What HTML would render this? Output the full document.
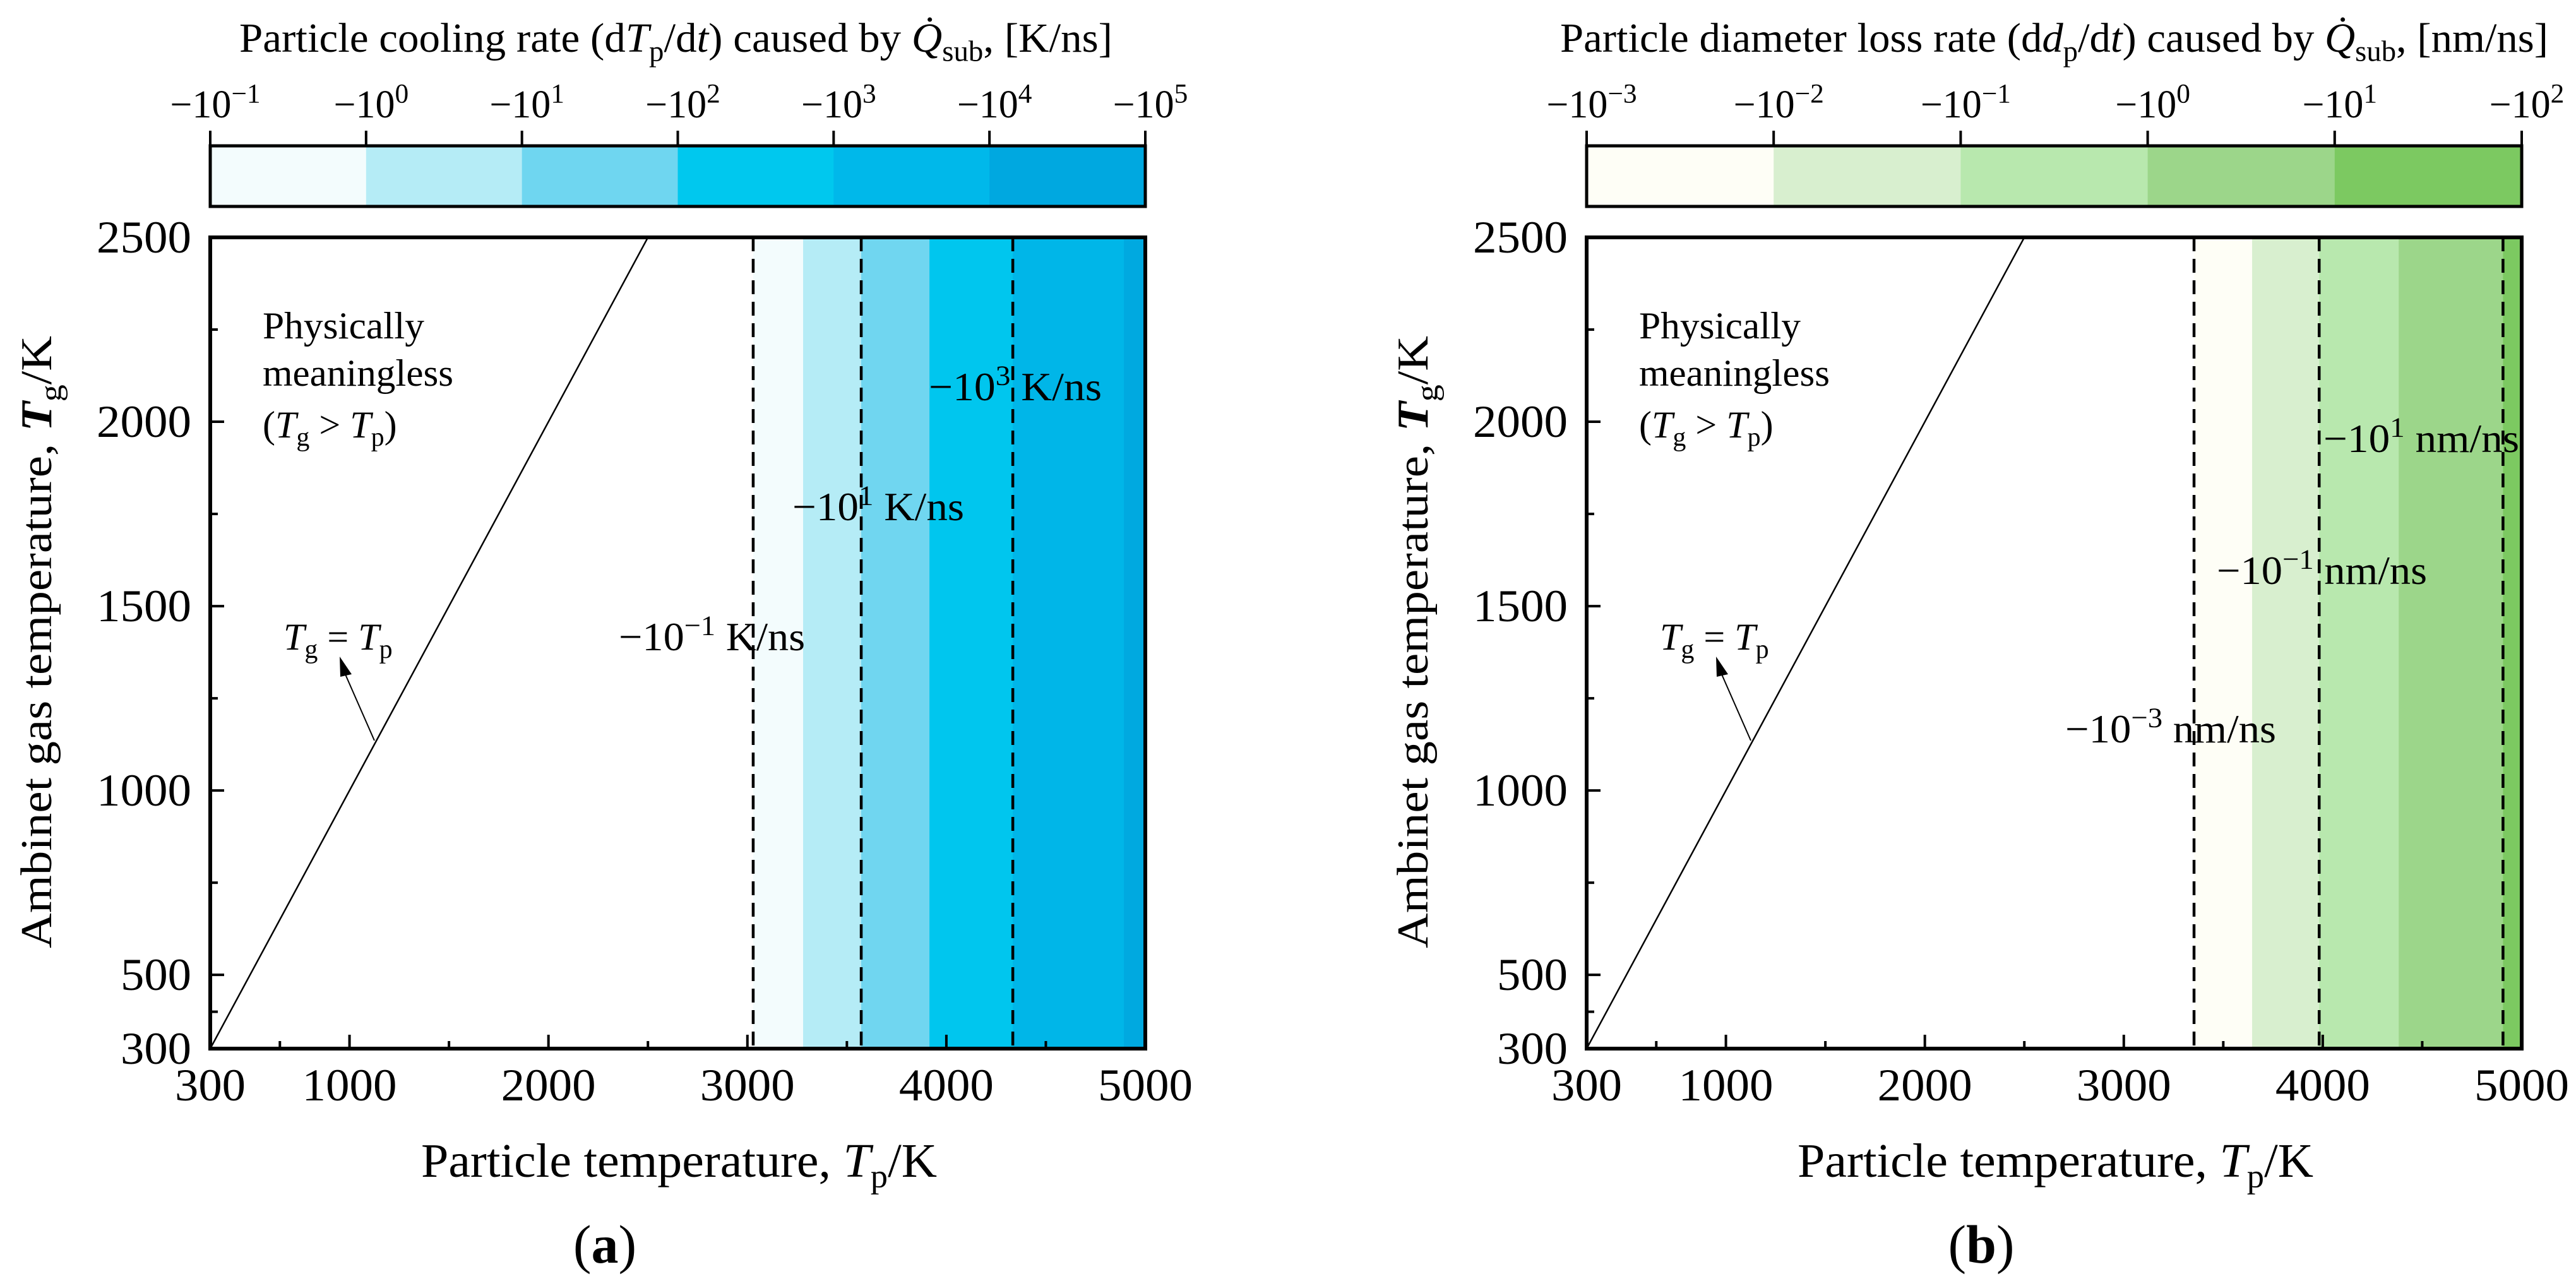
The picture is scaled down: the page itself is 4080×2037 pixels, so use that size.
<!DOCTYPE html>
<html><head><meta charset="utf-8"><style>
html,body{margin:0;padding:0;background:#fff;}
svg{display:block;font-family:"Liberation Serif",serif;}
</style></head><body>
<svg id="fig" width="4080" height="2037" viewBox="0 0 4080 2037" xmlns="http://www.w3.org/2000/svg"></svg>
<script>
// ---- data ----
const xTicks = [300, 1000, 2000, 3000, 4000, 5000];
const xMinor = [650, 1500, 2500, 3500, 4500];
const yTicks = [300, 500, 1000, 1500, 2000, 2500];
const yMinor = [400, 750, 1250, 1750, 2250];
const bandEdgesA = [3029, 3280, 3572, 3915, 4334, 4892, 5000];
const bandColorsA = ["#f3fcfd", "#b5ecf6", "#70d6f0", "#00c6ee", "#00b6e8", "#00a9e0"];
const dashedA = [3029, 3572, 4334];
const cbColorsA = ["#f3fcfd", "#b5ecf6", "#6fd6f0", "#00c8ee", "#00b8ea", "#00a8e0"];
const cbExpA = ["\u22121", "0", "1", "2", "3", "4", "5"];
const bandEdgesB = [3353, 3645, 3982, 4382, 4906, 5000];
const bandColorsB = ["#fefef6", "#d8efcf", "#b8e8ae", "#9cd68a", "#7cc961"];
const dashedB = [3353, 3982, 4906];
const cbColorsB = ["#fefef6", "#d8efcf", "#b8e8ae", "#9cd68a", "#7cc961"];
const cbExpB = ["\u22123", "\u22122", "\u22121", "0", "1", "2"];

const NS = "http://www.w3.org/2000/svg";
const svg = document.getElementById("fig");
function el(tag, attrs, parent) {
  const e = document.createElementNS(NS, tag);
  for (const k in attrs) e.setAttribute(k, attrs[k]);
  (parent || svg).appendChild(e);
  return e;
}
function richText(parent, x, y, size, parts, anchor, tl) {
  const t = el("text", {x: x, y: y, "font-size": size, "text-anchor": anchor || "start"}, parent);
  if (tl) { t.setAttribute("textLength", tl); t.setAttribute("lengthAdjust", "spacingAndGlyphs"); }
  parts.forEach(p => {
    const s = el("tspan", {}, t);
    if (p.i) s.setAttribute("font-style", "italic");
    if (p.b) s.setAttribute("font-weight", "bold");
    if (p.sub) { s.setAttribute("font-size", size * 0.7); s.setAttribute("dy", size * 0.22); }
    if (p.sup) { s.setAttribute("font-size", size * 0.7); s.setAttribute("dy", -size * 0.38); }
    if (p.back) s.setAttribute("dy", p.back * size);
    s.textContent = p.t;
  });
  return t;
}

function panel(id, L, cfg) {
  const g = el("g", {});
  
  
  const R = L + 1481, T = 376, B = 1661;
  const X = v => L + (v - 300) / 4700 * (R - L);
  const Y = v => B - (v - 300) / 2200 * (B - T);

  for (let i = 0; i < cfg.colors.length; i++) {
    const r = el("rect", {x: X(cfg.edges[i]), y: T, width: X(cfg.edges[i + 1]) - X(cfg.edges[i]) + 0.5, height: B - T, fill: cfg.colors[i]}, g);
    
    
  }
  cfg.dashed.forEach(v => {
    const l = el("line", {x1: X(v), x2: X(v), y1: T, y2: B, stroke: "#000", "stroke-width": 4.5, "stroke-dasharray": "22,12"}, g);
    
    
  });
  const d = el("line", {x1: X(300), y1: Y(300), x2: X(2500), y2: Y(2500), stroke: "#000", "stroke-width": 2.5}, g);
  
  

  const fr = el("path", {d: `M${L} ${T}H${R}V${B}H${L}Z`, fill: "none", stroke: "#000", "stroke-width": 6}, g);
  
  

  xTicks.forEach(v => {
    el("line", {x1: X(v), x2: X(v), y1: B, y2: B - 22, stroke: "#000", "stroke-width": 4}, g);
    const t = el("text", {x: X(v), y: 1743, "font-size": 72, "text-anchor": "middle", textLength: 150, lengthAdjust: "spacingAndGlyphs"}, g);
    if (v === 300) t.setAttribute("textLength", 112);
    
    
    t.textContent = v;
  });
  xMinor.forEach(v => el("line", {x1: X(v), x2: X(v), y1: B, y2: B - 12, stroke: "#000", "stroke-width": 4}, g));
  yTicks.forEach(v => {
    el("line", {x1: L, x2: L + 22, y1: Y(v), y2: Y(v), stroke: "#000", "stroke-width": 4}, g);
    const t = el("text", {x: L - 30, y: Y(v) + 24, "font-size": 72, "text-anchor": "end", textLength: v >= 1000 ? 150 : 112, lengthAdjust: "spacingAndGlyphs"}, g);
    
    
    t.textContent = v;
  });
  yMinor.forEach(v => el("line", {x1: L, x2: L + 12, y1: Y(v), y2: Y(v), stroke: "#000", "stroke-width": 4}, g));

  const cT = 231, cB = 327, n = cfg.cb.length, w = (R - L) / n;
  for (let i = 0; i < n; i++) {
    const r = el("rect", {x: L + i * w, y: cT, width: w + 0.5, height: cB - cT, fill: cfg.cb[i]}, g);
    
    
  }
  el("rect", {x: L, y: cT, width: R - L, height: cB - cT, fill: "none", stroke: "#000", "stroke-width": 5}, g);
  for (let i = 0; i <= n; i++) {
    el("line", {x1: L + i * w, x2: L + i * w, y1: cT, y2: 207, stroke: "#000", "stroke-width": 4}, g);
    const t = richText(g, L + i * w + 8, 186, 62, [{t: "\u221210"}, {t: cfg.exp[i], sup: true}], "middle");
    
    
  }
  const ct = richText(g, cfg.cbTitleX, 82, 66, cfg.cbTitle, "start", cfg.cbTitleW);
  
  

  const xt = richText(g, L + 334, 1864, 76, [{t: "Particle temperature, "}, {t: "T", i: true}, {t: "p", sub: true}, {t: "/K", back: -0.22}], "start", 817);
  
  
  const yg = el("g", {transform: `translate(${L - 252},1502) rotate(-90)`}, g);
  const yt = richText(yg, 0, 0, 70, [{t: "Ambinet gas temperature, "}, {t: "T", i: true, b: true}, {t: "g", sub: true}, {t: "/K", back: -0.22}], "start", 970);
  
  
  const lab = richText(g, L + 625, 2000, 86, [{t: "("}, {t: cfg.letter, b: true}, {t: ")"}], "middle");
  
  

  const an = el("g", {}, g);
  
  
  richText(an, L + 83, 536, 60, [{t: "Physically"}], "start", 256);
  richText(an, L + 83, 611, 60, [{t: "meaningless"}], "start", 302);
  richText(an, L + 83, 693, 60, [{t: "("}, {t: "T", i: true}, {t: "g", sub: true}, {t: " > ", back: -0.22}, {t: "T", i: true}, {t: "p", sub: true}, {t: ")", back: -0.22}], "start");
  const eq = richText(g, L + 116, 1029, 60, [{t: "T", i: true}, {t: "g", sub: true}, {t: " = ", back: -0.22}, {t: "T", i: true}, {t: "p", sub: true}], "start");
  
  
  const ar = el("g", {}, g);
  
  
  el("line", {x1: L + 260, y1: 1173, x2: L + 213, y2: 1066, stroke: "#000", "stroke-width": 2}, ar);
  el("path", {d: `M${L + 205} 1040 L${L + 224} 1068 L${L + 206} 1072 Z`, fill: "#000"}, ar);

  cfg.labels.forEach(lb => {
    const t = richText(g, lb.x, lb.y, 64, [{t: "\u221210"}, {t: lb.e, sup: true}, {t: "\u00a0" + lb.u, back: 0.38}], "start", lb.w);
    
    
  });
}

panel("panel-a", 333, {
  edges: bandEdgesA, colors: bandColorsA, dashed: dashedA, cb: cbColorsA, exp: cbExpA, letter: "a",
  cbTitleX: 379, cbTitleW: 1383,
  cbTitle: [{t: "Particle cooling rate (d"}, {t: "T", i: true}, {t: "p", sub: true}, {t: "/d", back: -0.22}, {t: "t", i: true}, {t: ") caused by "}, {t: "Q\u0307", i: true}, {t: "sub", sub: true}, {t: ", [K/ns]", back: -0.22}],
  labels: [
    {x: 1471, y: 634, e: "3", u: "K/ns", w: 274},
    {x: 1255, y: 824, e: "1", u: "K/ns", w: 272},
    {x: 980, y: 1030, e: "\u22121", u: "K/ns", w: 295}
  ]
});
panel("panel-b", 2513, {
  edges: bandEdgesB, colors: bandColorsB, dashed: dashedB, cb: cbColorsB, exp: cbExpB, letter: "b",
  cbTitleX: 2471, cbTitleW: 1565,
  cbTitle: [{t: "Particle diameter loss rate (d"}, {t: "d", i: true}, {t: "p", sub: true}, {t: "/d", back: -0.22}, {t: "t", i: true}, {t: ") caused by "}, {t: "Q\u0307", i: true}, {t: "sub", sub: true}, {t: ", [nm/ns]", back: -0.22}],
  labels: [
    {x: 3680, y: 716, e: "1", u: "nm/ns", w: 310},
    {x: 3511, y: 925, e: "\u22121", u: "nm/ns", w: 333},
    {x: 3271, y: 1176, e: "\u22123", u: "nm/ns", w: 334}
  ]
});
</script>
</body></html>
